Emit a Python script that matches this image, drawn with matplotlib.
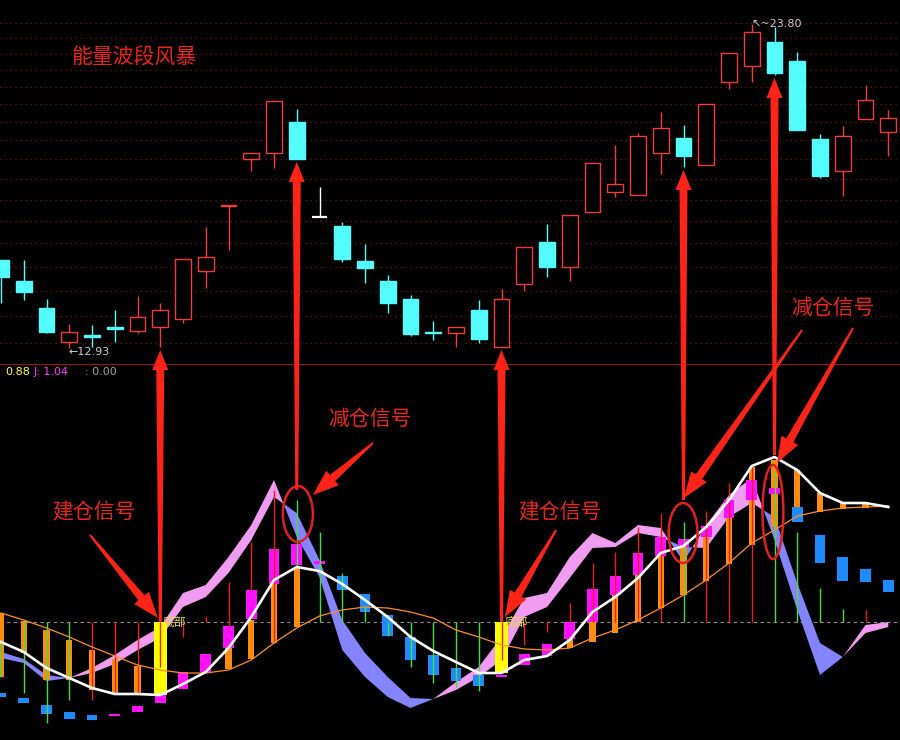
import numpy as np
import matplotlib
matplotlib.use('Agg')
import matplotlib.pyplot as plt
from matplotlib.patches import Ellipse, Polygon
from matplotlib.transforms import IdentityTransform

plt.rcParams['font.family'] = ['Noto Sans CJK SC', 'DejaVu Sans']

# ---------------- data: candles ----------------
opens = [15.26, 14.67, 13.94, 13.08, 13.24, 13.44, 13.35, 13.45, 13.66, 14.95,
         16.89, 18.46, 18.67, 19.79, 16.55, 16.27, 15.23, 14.67, 14.18, 13.32,
         13.30, 13.89, 12.95, 14.59, 15.79, 15.06, 16.70, 17.35, 17.25, 18.67,
         19.20, 18.25, 21.34, 21.99, 23.01, 22.20, 19.17, 18.04, 19.90, 19.42]
highs = [15.26, 15.26, 14.18, 13.53, 13.50, 13.89, 14.26, 14.07, 15.29, 16.24,
         16.93, 18.67, 20.59, 20.28, 17.51, 16.39, 15.73, 14.84, 14.29, 13.60,
         13.45, 14.15, 14.45, 15.64, 16.33, 16.61, 18.32, 18.95, 19.38, 20.16,
         19.68, 20.47, 22.53, 23.80, 23.66, 22.58, 19.35, 19.64, 21.22, 20.24]
lows = [14.07, 14.15, 13.30, 12.93, 12.96, 13.08, 13.30, 12.95, 13.55, 14.48,
        15.55, 18.04, 18.15, 18.46, 16.55, 15.20, 14.61, 13.81, 13.23, 13.13,
        12.96, 13.05, 12.95, 14.40, 14.78, 14.67, 16.70, 17.18, 17.25, 17.94,
        18.18, 18.25, 21.06, 21.34, 21.62, 19.49, 17.81, 17.22, 19.90, 18.56]
closes = [14.78, 14.37, 13.33, 13.33, 13.21, 13.41, 13.71, 13.89, 15.29, 15.35,
          16.93, 18.67, 20.59, 18.46, 16.55, 15.29, 15.03, 14.07, 13.28, 13.29,
          13.45, 13.15, 14.18, 15.64, 15.06, 16.61, 18.32, 17.61, 19.27, 19.57,
          18.56, 20.47, 22.53, 23.44, 21.70, 19.49, 17.88, 19.27, 20.63, 19.94]
grid_prices = [13.05, 13.72, 14.40, 15.07, 15.75, 16.42, 17.09, 17.77, 18.44,
               19.12, 19.79, 20.46, 21.14, 21.81, 22.49, 23.16, 23.84]
low_label = 12.93
high_label = 23.80

# ---------------- data: indicator ----------------
white_line = [10, 5, -3, -8, -13, -16, -16, -16.5, -11, -5,
              7, 22.5, 41, 47.5, 45.5, 39, 31, 22.5, 12.5, 5.5,
              0, -5.5, -5.5, 1, 3, 11, 25, 32.5, 42, 54.5,
              58, 67.5, 81, 98, 102.5, 96, 84.5, 79.5, 79.5, 77.5]
orange_line = [24.5, 21, 17, 12.5, 7.5, 3, -1.5, -4, -5.5, -5.5,
               -4, 1, 9.5, 17, 23, 26, 27.5, 27, 25, 22,
               16, 12.5, 8.5, 6.5, 6, 7, 12, 16, 21, 27,
               33.5, 41, 49.5, 59.5, 66, 73, 75.5, 77, 77.5, 78]
ribbon_a = [2, -0.5, -9.5, -8, -3, 3.5, 11, 17.5, 34.5, 38.5,
            52.5, 68.5, 91, 62.5, 42.5, 6, -7.5, -17.5, -23, -18.5,
            -10, -2.5, 12.5, 32, 34.5, 52.5, 64.5, 59.5, 68.5, 67,
            50, 68.5, 83.5, 92, 61, 26, -6.5, 2.5, 18.5, 20]
ribbon_b = [5, 1.5, -6.5, -8, -5.5, -1, 6, 12, 27.5, 32.5,
            44.5, 61, 82.5, 74.5, 51, 21, 4.5, -7.5, -18, -18.5,
            -14, -7.5, 1, 22.5, 27.5, 42, 57, 57.5, 64.5, 62.5,
            57.5, 57, 72.5, 79.5, 72.5, 39.5, 9.5, 2.5, 14.5, 17.5]
base_level = 20

orange_idx = [0, 1, 2, 3, 4, 5, 6, 10, 11, 12, 13, 25, 26, 27, 28, 29, 30, 31, 32, 33, 34, 35, 36, 37, 38]
orange_top = [24.5, 20.5, 16, 11, 6, 1.5, -2, 7, 21, 39, 47.5, 11.5, 20, 33.5, 43.5, 53, 57.5, 62.5, 72, 97.5, 101, 96, 84.5, 79.5, 79.5]
orange_bot = [-7.5, 4.5, -9, -9, -14, -15.5, -15.5, -3.5, 1.5, 9.5, 17.5, 7, 10, 14.5, 20, 27, 33.5, 40.5, 49, 58.5, 67.5, 77.5, 75, 76.5, 77]

magenta_idx = [5, 6, 7, 8, 9, 10, 11, 12, 13, 14, 22, 23, 24, 25, 26, 27, 28, 29, 30, 31, 32, 33, 34]
magenta_top = [-26, -22, -16.5, -5, 4, 18, 36, 56.5, 59, 50.5, -6.5, 4, 9, 20, 36.5, 43, 54.5, 62.5, 61.5, 68, 81, 91, 87]
magenta_bot = [-27, -25, -20.5, -13.5, -5, 7, 21.5, 39, 48.5, 49, -7.5, -1.5, 3, 11.5, 20, 33.5, 43.5, 53, 57.5, 62.5, 72, 81, 84]

blue_idx = [0, 1, 2, 3, 4, 15, 16, 17, 18, 19, 20, 21, 35, 36, 37, 38, 39]
blue_top = [-15.5, -18, -21.5, -25, -26.5, 43, 34, 23.5, 12.5, 3.5, -3, -6.5, 77.5, 63.5, 52.5, 46.5, 41]
blue_bot = [-17.5, -20.5, -26, -28.5, -29, 36, 25, 13, 1, -6.5, -9.5, -12, 70, 49.5, 40.5, 40, 35]

yellow_idx = [7, 22]
yellow_top = [20, 20]
yellow_bot = [-16.5, -5.5]

stick_idx = list(range(39))
stick_top = [10, 20.5, 20, 20, 20, 20, 20, 20, 20, 23,
             40, 60, 86, 81, 65, 44.5, 27.5, 20, 20, 20,
             20, 20, 20, 20, 20, 29.5, 49.5, 55, 67.5, 74.5,
             70, 75.5, 89.5, 98.5, 96, 65, 37, 26.5, 26]
stick_bot = [-7.5, -15.5, -30.5, -19, -19, -15.5, -15.5, -2.5, 12.5, 20,
             17.5, 36, 9.5, 47.5, 20, 20, 20, 13, -2.5, -10.5,
             -12.5, -14.5, 1, 8.5, 15, 20, 20, 20, 20, 20,
             20, 20, 20, 20, 20, 20, 20, 20, 20]
stick_up = [0, 0, 0, 0, 1, 1, 1, 1, 1, 1,
            1, 1, 1, 0, 0, 0, 0, 0, 0, 0,
            0, 0, 1, 1, 1, 1, 1, 1, 1, 1,
            0, 1, 1, 1, 0, 0, 0, 0, 1]

legend_vals = ['0.88', 'J: 1.04', ': 0.00']

# ---------------- figure ----------------
W, H = 900, 740
fig = plt.figure(figsize=(W / 100, H / 100), dpi=100, facecolor='black')
sep = 365
ax_top = fig.add_axes([0, (H - sep) / H, 1, sep / H], facecolor='black')
ax_bot = fig.add_axes([0, 0, 1, (H - sep) / H], facecolor='black')

n = len(opens)
x = np.arange(n)
xlim = (-0.044, 39.516)
for ax in (ax_top, ax_bot):
    ax.set_xlim(*xlim)
    ax.tick_params(which='both', length=0, labelleft=False, labelbottom=False)
    for s in ax.spines.values():
        s.set_visible(False)

ax_top.set_yscale('log')
ax_top.set_ylim(12.52, 24.90)
ax_top.yaxis.set_major_locator(matplotlib.ticker.NullLocator())
ax_top.yaxis.set_minor_locator(matplotlib.ticker.NullLocator())
ax_top.spines['bottom'].set_visible(True)
ax_top.spines['bottom'].set_color('#c41c1c')
ax_top.spines['bottom'].set_linewidth(1.1)
ax_top.spines['bottom'].set_zorder(1)

for gp in grid_prices:
    ax_top.axhline(gp, color='#7a1414', lw=0.9, ls=(0, (1, 3)), zorder=0)

RED = '#f03c3c'
CYAN = '#54fcfc'
body_w = 0.70
for i in range(n):
    o, h, l, c = opens[i], highs[i], lows[i], closes[i]
    if c > o:
        col = RED
    elif c < o:
        col = CYAN
    else:
        col = '#ffffff'
    ax_top.vlines(i, l, h, color=col, lw=1.0, zorder=2)
    lo, hi = min(o, c), max(o, c)
    if hi - lo < 1e-9:
        ax_top.hlines(o, i - body_w / 2, i + body_w / 2, color=col, lw=1.6, zorder=3)
    elif col == RED:
        ax_top.bar(i, hi - lo, bottom=lo, width=body_w, facecolor='black',
                   edgecolor=RED, linewidth=1.0, zorder=3)
    else:
        ax_top.bar(i, hi - lo, bottom=lo, width=body_w, facecolor=col,
                   edgecolor=col, linewidth=1.0, zorder=3)

ax_top.annotate('\u219012.93', xy=(3, low_label), xytext=(-1, -4), textcoords='offset pixels',
                ha='left', va='center', color='#d0d0d0', fontsize=8, family=['DejaVu Sans'])
ax_top.annotate('\u2196~23.80', xy=(33, high_label), xytext=(0, 0), textcoords='offset pixels',
                ha='left', va='center', color='#d0d0d0', fontsize=8, family=['DejaVu Sans'])
ax_top.text(0.149, 0.841, '能量波段风暴', transform=ax_top.transAxes, ha='center', va='center',
            color='#e8241c', fontsize=15)

# ---------------- indicator panel ----------------
ax_bot.set_ylim(-39, 148.5)
ax_bot.axhline(base_level, color='#a08c8c', lw=0.8, ls=(0, (3, 3)), zorder=1)

ra = np.array(ribbon_a, float)
rb = np.array(ribbon_b, float)
ax_bot.fill_between(x, ra, rb, where=ra >= rb, interpolate=True, color='#f09cf0', lw=0, zorder=1.5)
ax_bot.fill_between(x, ra, rb, where=ra <= rb, interpolate=True, color='#8484ff', lw=0, zorder=1.5)

ax_bot.bar(orange_idx, np.array(orange_top) - np.array(orange_bot), bottom=orange_bot,
           width=0.27, color='#ff8c10', lw=0, zorder=3)
ax_bot.bar(blue_idx, np.array(blue_top) - np.array(blue_bot), bottom=blue_bot,
           width=0.48, color='#1e8cff', lw=0, zorder=3.5)
ax_bot.bar(yellow_idx, np.array(yellow_top) - np.array(yellow_bot), bottom=yellow_bot,
           width=0.57, color='#ffff00', lw=0, zorder=3.5)
ax_bot.bar(magenta_idx, np.array(magenta_top) - np.array(magenta_bot), bottom=magenta_bot,
           width=0.48, color='#ff10ff', lw=0, zorder=3.6)
for i, t, b, u in zip(stick_idx, stick_top, stick_bot, stick_up):
    ax_bot.vlines(i, b, t, color='#e82020' if u else '#44dd44', lw=1.0, zorder=4)

ax_bot.plot(x, orange_line, color='#ff9020', lw=0.9, zorder=5)
ax_bot.plot(x, white_line, color='#ffffff', lw=1.9, zorder=6)

for i in yellow_idx:
    ax_bot.text(i + 0.12, base_level, '底部', color='#e8dc50', fontsize=8.5,
                ha='left', va='center', zorder=7)

lx = [0.006, 0.037, 0.094]
lc = ['#ffff40', '#ff40ff', '#a0a0a0']
for xx, s, cc in zip(lx, legend_vals, lc):
    ax_bot.text(xx, 0.981, s, transform=ax_bot.transAxes, color=cc, fontsize=8,
                ha='left', va='center', family=['DejaVu Sans'])

# ---------------- annotations ----------------
ARROW = '#ff2418'
TXT = '#e8281e'


def tapered(tip, tail, head_len, head_w, w_head, w_tail, color=ARROW, z=10):
    tip = np.asarray(tip, float)
    tail = np.asarray(tail, float)
    d = tip - tail
    L = np.hypot(*d)
    u = d / L
    nrm = np.array([-u[1], u[0]])
    base = tip - u * head_len
    pts = [tail + nrm * w_tail / 2, base + nrm * w_head / 2, base + nrm * head_w / 2,
           tip, base - nrm * head_w / 2, base - nrm * w_head / 2, tail - nrm * w_tail / 2]
    fig.add_artist(Polygon(pts, closed=True, transform=IdentityTransform(),
                           facecolor=color, edgecolor='none', zorder=z))


# vertical arrows from indicator to candles
v_idx = [7, 13, 22, 30, 34]
v_tail = [20, 86, 20, 81, 103.5]
for i, vt in zip(v_idx, v_tail):
    tip = ax_top.transData.transform((i, lows[i])) + np.array([0, -3])
    tail = ax_bot.transData.transform((i, vt))
    tapered(tip, tail, head_len=20, head_w=16, w_head=8, w_tail=3)

# diagonal arrows from labels
diag = [((3.91, 63.5), (6.90, 22)), ((24.40, 66), (22.15, 22.5)),
        ((16.35, 109.5), (13.71, 83.5)), ((35.21, 166), (30.02, 82)),
        ((37.45, 167), (34.11, 99.5))]
for tail, tip in diag:
    tp = ax_bot.transData.transform(tip)
    tl = ax_bot.transData.transform(tail)
    tapered(tp, tl, head_len=26, head_w=19, w_head=8, w_tail=2)

labels = [((4.09, 75), '建仓信号'), ((24.57, 75), '建仓信号'),
          ((16.22, 121.5), '减仓信号'), ((36.57, 177), '减仓信号')]
for (lx_, ly_), s in labels:
    ax_bot.text(lx_, ly_, s, color=TXT, fontsize=15, ha='center', va='center',
                clip_on=False, zorder=11)

ellipses = [((13.05, 74), 1.32, 28), ((29.98, 64.5), 1.27, 30), ((33.93, 75), 0.92, 47)]
for (cx, cy), ew, eh in ellipses:
    ax_bot.add_patch(Ellipse((cx, cy), ew, eh, fill=False, edgecolor='#e02020',
                             lw=1.8, zorder=9))

fig.savefig('out.png', dpi=100, facecolor='black')
